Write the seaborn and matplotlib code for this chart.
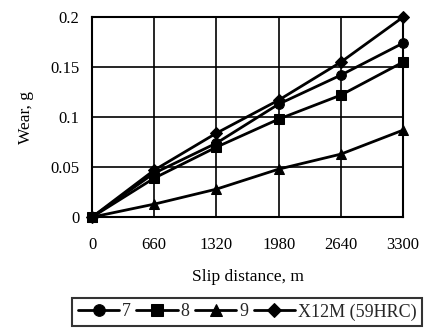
import pandas as pd
import seaborn as sns
import matplotlib.pyplot as plt

distance = [0, 660, 1320, 1980, 2640, 3300]
wear_7 = [0, 0.044, 0.074, 0.113, 0.142, 0.174]
wear_8 = [0, 0.039, 0.070, 0.098, 0.122, 0.155]
wear_9 = [0, 0.013, 0.028, 0.048, 0.063, 0.087]
wear_x12m = [0, 0.047, 0.084, 0.117, 0.155, 0.200]
labels = ["7", "8", "9", "X12M (59HRC)"]

rows = []
for name, vals in zip(labels, [wear_7, wear_8, wear_9, wear_x12m]):
    for d, v in zip(distance, vals):
        rows.append({"distance": d, "wear": v, "steel": name})
df = pd.DataFrame(rows)

sns.set_style("white")
plt.rcParams["font.family"] = ["Liberation Serif", "DejaVu Serif"]

fig = plt.figure(figsize=(4.32, 3.29), dpi=100)
ax = fig.add_axes([0.213, 0.340, 0.72, 0.608])

sns.lineplot(
    data=df, x="distance", y="wear", hue="steel", style="steel",
    palette=["black"] * 4, dashes=False,
    markers={"7": "o", "8": "s", "9": "^", "X12M (59HRC)": "D"},
    markersize=7, linewidth=2, markeredgecolor="black",
    ax=ax, clip_on=False, legend=True,
)
for ln in ax.lines:
    if ln.get_marker() == "D":
        ln.set_markersize(6)

ax.set_xlim(0, 3300)
ax.set_ylim(0, 0.2)
ax.set_xticks(distance)
ax.set_yticks([0, 0.05, 0.1, 0.15, 0.2])
ax.set_yticklabels(["0", "0.05", "0.1", "0.15", "0.2"])
ax.grid(True, color="black", linewidth=1.2)
for s in ax.spines.values():
    s.set_color("black")
    s.set_linewidth(1.5)
ax.tick_params(axis="both", length=0, labelsize=12, labelcolor="black")
ax.tick_params(axis="x", pad=14)
ax.tick_params(axis="y", pad=9)
ax.set_xlabel("Slip distance, m", fontsize=12.5, labelpad=12, color="black")
ax.set_ylabel("Wear, g", fontsize=12.5, labelpad=12, color="black")

handles, lbls = ax.get_legend_handles_labels()
ax.legend_.remove()
leg = fig.legend(
    handles, lbls, loc="center", bbox_to_anchor=(0.572, 0.052), ncol=4,
    frameon=True, fancybox=False, edgecolor="black", fontsize=13,
    handlelength=2.3, handletextpad=0.15, columnspacing=0.3, borderpad=0.3,
    markerscale=1.2,
)
leg.get_frame().set_linewidth(1.5)

fig.savefig("out.png", dpi=100)
